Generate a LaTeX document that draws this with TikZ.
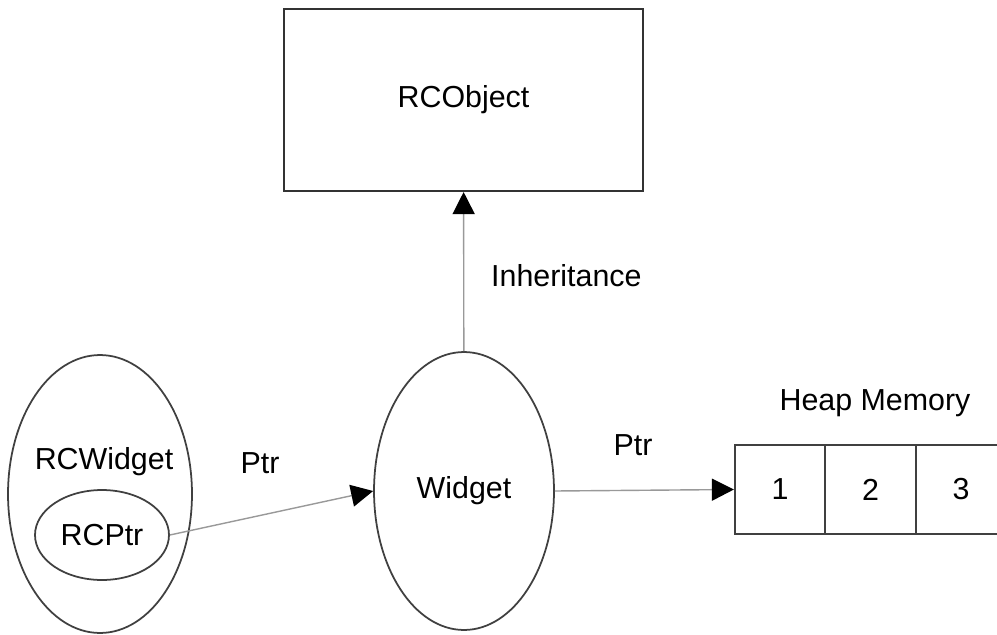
\documentclass[tikz,border=0pt]{standalone}
\usepackage{fontspec}
\setmainfont{Liberation Sans}
\usetikzlibrary{arrows.meta,positioning,shapes.geometric}

\begin{document}
\begin{tikzpicture}[
    x=0.02cm, y=-0.02cm,
    font=\fontsize{17.3}{20}\selectfont,
    classbox/.style={
        draw=black!80,
        line width=1.2pt,
        minimum width=7.18cm,
        minimum height=3.64cm,
        inner sep=0pt
    },
    obj/.style={
        ellipse,
        draw=black!75,
        line width=1pt,
        inner sep=0pt
    },
    cell/.style={
        draw=black!75,
        line width=1pt,
        minimum width=1.81cm,
        minimum height=1.78cm,
        inner sep=0pt
    },
    arrow/.style={-{Triangle[length=4.4mm,width=4.4mm,color=black]}, line width=0.8pt, draw=black!40}
]
\useasboundingbox (0,0) rectangle (997,635);

\node[classbox] (rcobject) at (463.5,100) {RCObject};

\node[obj, minimum width=3.6cm, minimum height=5.56cm] (widget) at (464,491) {Widget};
\node[obj, minimum width=3.68cm, minimum height=5.56cm] (rcwidget) at (100,494) {};
\node (rcwidgetlabel) at (104,462) {RCWidget};
\node[obj, minimum width=2.68cm, minimum height=1.8cm] (rcptr) at (102,535) {RCPtr};

\node[cell] (cell1) at (780,489.5) {1};
\node[cell, right=-1pt of cell1] (cell2) {2};
\node[cell, right=-1pt of cell2] (cell3) {3};
\node (heaplabel) at (875,403) {Heap Memory};

\draw[arrow] (widget) -- (rcobject);
\node[anchor=west] (inheritlabel) at (485,276) {Inheritance};

\draw[arrow] (rcptr.east) -- (widget.west);
\node (ptrleft) at (260,463) {Ptr};

\draw[arrow] (widget.east) -- (cell1.west);
\node (ptrright) at (633,445) {Ptr};
\end{tikzpicture}
\end{document}
